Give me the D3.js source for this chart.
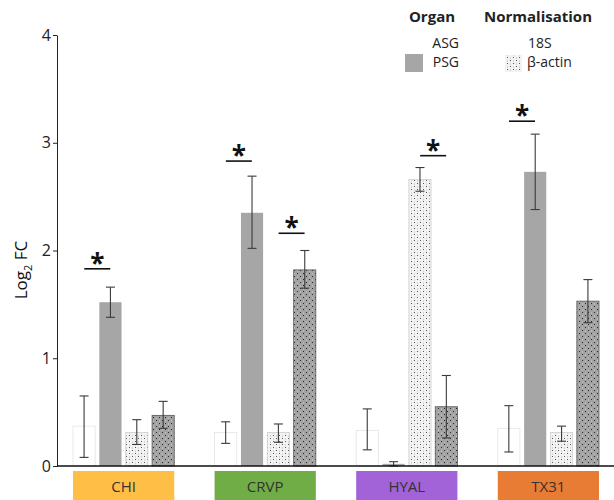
<!DOCTYPE html>
<html>
<head>
<meta charset="utf-8">
<script src="https://cdn.jsdelivr.net/npm/d3@7"></script>
<style>
  body { margin: 0; background: #fff; }
  text { font-family: "Open Sans", "Noto Sans", sans-serif; }
</style>
</head>
<body>
<div id="chart"></div>
<script>
// genes and the four bar series (organ x normalisation)
var categories = ["CHI", "CRVP", "HYAL", "TX31"];
var seriesNames = ["ASG 18S", "PSG 18S", "ASG β-actin", "PSG β-actin"];

var asg18s   = [0.37, 0.31, 0.33, 0.35];
var psg18s   = [1.52, 2.35, 0.02, 2.73];
var asgActin = [0.31, 0.31, 2.66, 0.31];
var psgActin = [0.47, 1.82, 0.55, 1.53];

// error bar ends (low, high)
var asg18sErr   = [[0.08, 0.65], [0.21, 0.41], [0.15, 0.53], [0.13, 0.56]];
var psg18sErr   = [[1.38, 1.66], [2.02, 2.69], [0.00, 0.04], [2.38, 3.08]];
var asgActinErr = [[0.20, 0.43], [0.22, 0.39], [2.55, 2.77], [0.23, 0.37]];
var psgActinErr = [[0.35, 0.60], [1.65, 2.00], [0.26, 0.84], [1.33, 1.73]];

var yTicks = [0, 1, 2, 3, 4];

// significance marks: gene, pair of series, height of the bar line
var sigGenes = ["CHI", "CRVP", "CRVP", "HYAL", "TX31"];
var sigPairs = [[0, 1], [0, 1], [2, 3], [2, 3], [0, 1]];
var sigLevel = [1.83, 2.83, 2.16, 2.88, 3.20];

var catColors = ["#ffbf47", "#70ad47", "#a262d8", "#e87c34"];

var svgWidth = 614;
var svgHeight = 500;

var svg = d3.select("#chart")
  .append("svg")
  .attr("width", svgWidth)
  .attr("height", svgHeight);

// fill patterns for the beta-actin bars
var defs = svg.append("defs");
var pLight = defs.append("pattern")
  .attr("id", "dotLight").attr("width", 6).attr("height", 6)
  .attr("patternUnits", "userSpaceOnUse");
pLight.append("rect").attr("width", 6).attr("height", 6).attr("fill", "#f3f3f3");
[[0, 0], [3, 3], [0, 3.5], [3, 0.5]].forEach(function(p, i) {
  pLight.append("rect").attr("x", p[0]).attr("y", p[1]).attr("width", 1).attr("height", 1)
    .attr("fill", i < 2 ? "#555" : "#bbb");
});
var pDark = defs.append("pattern")
  .attr("id", "dotDark").attr("width", 6).attr("height", 6)
  .attr("patternUnits", "userSpaceOnUse");
pDark.append("rect").attr("width", 6).attr("height", 6).attr("fill", "#a2a2a2");
[[0, 0], [3, 3], [0, 3.5], [3, 0.5]].forEach(function(p, i) {
  pDark.append("rect").attr("x", p[0]).attr("y", p[1]).attr("width", 1).attr("height", 1)
    .attr("fill", i < 2 ? "#2a2a2a" : "#d0d0d0");
});

var barFill = ["#ffffff", "#a6a6a6", "url(#dotLight)", "url(#dotDark)"];
var barStroke = ["#e4e4e4", "none", "#d0d0d0", "#555"];

// scales
var x0 = d3.scaleBand()
  .domain(categories)
  .range([73, 599])
  .paddingInner(0.285)
  .paddingOuter(0);
var x1 = d3.scaleBand()
  .domain(seriesNames)
  .range([0, x0.bandwidth()])
  .paddingInner(0.16);
var y = d3.scaleLinear()
  .domain([0, 4])
  .range([466, 35]);

var allValues = [asg18s, psg18s, asgActin, psgActin];
var allErrs = [asg18sErr, psg18sErr, asgActinErr, psgActinErr];

var rows = [];
categories.forEach(function(c, ci) {
  seriesNames.forEach(function(s, si) {
    rows.push({cat: c, ser: s, si: si, value: allValues[si][ci], err: allErrs[si][ci]});
  });
});

// bars
svg.append("g").selectAll("rect")
  .data(rows)
  .enter()
  .append("rect")
  .attr("x", d => x0(d.cat) + x1(d.ser))
  .attr("y", d => y(d.value))
  .attr("width", x1.bandwidth())
  .attr("height", d => y(0) - y(d.value))
  .attr("fill", d => barFill[d.si])
  .attr("stroke", d => barStroke[d.si])
  .attr("stroke-width", 0.8);

// error bars
var errG = svg.append("g").attr("stroke", "#3a3a3a").attr("stroke-width", 1.1);
rows.forEach(function(d) {
  var cx = x0(d.cat) + x1(d.ser) + x1.bandwidth() / 2;
  errG.append("line")
    .attr("x1", cx).attr("x2", cx)
    .attr("y1", y(d.err[0])).attr("y2", y(d.err[1]));
  d.err.forEach(function(e) {
    errG.append("line")
      .attr("x1", cx - 4.5).attr("x2", cx + 4.5)
      .attr("y1", y(e)).attr("y2", y(e));
  });
});

// axes
var leftAxis = d3.axisLeft(y)
  .tickValues(yTicks)
  .tickFormat(d3.format("d"))
  .tickSize(4)
  .tickPadding(2)
  .tickSizeOuter(0);
var yAxisG = svg.append("g")
  .attr("transform", "translate(57,0)")
  .call(leftAxis);
yAxisG.select(".domain").attr("stroke", "#222");
yAxisG.selectAll(".tick line").attr("stroke", "#222");
yAxisG.selectAll("text")
  .attr("font-size", "16px")
  .attr("fill", "#222")
  .attr("font-family", "'Open Sans', sans-serif");

svg.append("line")
  .attr("x1", 57).attr("x2", svgWidth)
  .attr("y1", y(0)).attr("y2", y(0))
  .attr("stroke", "#111")
  .attr("stroke-width", 1.5);

// y axis title
var yTitle = svg.append("text")
  .attr("transform", "translate(27," + 270 + ") rotate(-90)")
  .attr("text-anchor", "middle")
  .attr("font-size", "17px")
  .attr("fill", "#111");
yTitle.append("tspan").text("Log");
yTitle.append("tspan").attr("font-size", "11px").attr("dy", 5).text("2");
yTitle.append("tspan").attr("dy", -5).text(" FC");

// coloured gene boxes under the axis
var catG = svg.append("g").selectAll("g")
  .data(categories)
  .enter()
  .append("g");
catG.append("rect")
  .attr("x", d => x0(d))
  .attr("y", 471)
  .attr("width", x0.bandwidth())
  .attr("height", 32)
  .attr("fill", (d, i) => catColors[i]);
catG.append("text")
  .attr("x", d => x0(d) + x0.bandwidth() / 2)
  .attr("y", 492)
  .attr("text-anchor", "middle")
  .attr("font-size", "15px")
  .attr("fill", "#333")
  .text(d => d);

// significance lines and asterisks
sigGenes.forEach(function(g, i) {
  var pair = sigPairs[i];
  var a = x0(g) + x1(seriesNames[pair[0]]) + x1.bandwidth();
  var b = x0(g) + x1(seriesNames[pair[1]]);
  var mid = (a + b) / 2;
  svg.append("line")
    .attr("x1", mid - 13).attr("x2", mid + 13)
    .attr("y1", y(sigLevel[i])).attr("y2", y(sigLevel[i]))
    .attr("stroke", "#111").attr("stroke-width", 1.6);
  svg.append("text")
    .attr("x", mid)
    .attr("y", y(sigLevel[i]) + 4)
    .attr("text-anchor", "middle")
    .attr("font-size", "26px")
    .attr("font-weight", "bold")
    .attr("fill", "#111")
    .text("*");
});

// legend
var legend = svg.append("g").attr("fill", "#222");
legend.append("text").attr("x", 432).attr("y", 22).attr("text-anchor", "middle")
  .attr("font-size", "15px").attr("font-weight", "bold").text("Organ");
legend.append("text").attr("x", 538).attr("y", 22).attr("text-anchor", "middle")
  .attr("font-size", "15px").attr("font-weight", "bold").text("Normalisation");
legend.append("text").attr("x", 459).attr("y", 48).attr("text-anchor", "end")
  .attr("font-size", "14px").text("ASG");
legend.append("rect").attr("x", 405).attr("y", 54).attr("width", 18).attr("height", 18)
  .attr("fill", "#a6a6a6");
legend.append("text").attr("x", 459).attr("y", 67).attr("text-anchor", "end")
  .attr("font-size", "14px").text("PSG");
legend.append("text").attr("x", 528).attr("y", 48)
  .attr("font-size", "14px").text("18S");
legend.append("rect").attr("x", 505).attr("y", 55).attr("width", 17).attr("height", 17)
  .attr("fill", "url(#dotLight)");
legend.append("text").attr("x", 527).attr("y", 67)
  .attr("font-size", "14px").text("β-actin");
</script>
</body>
</html>
